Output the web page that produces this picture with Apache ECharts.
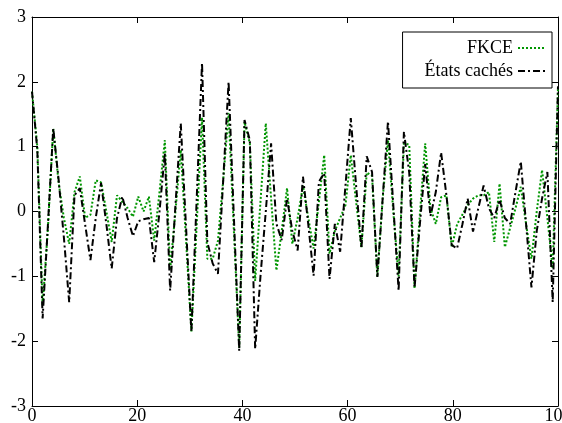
<!DOCTYPE html>
<html>
<head>
<meta charset="utf-8">
<script src="https://cdn.jsdelivr.net/npm/echarts@6/dist/echarts.min.js"></script>
<style>
html,body{margin:0;padding:0;background:#fff;}
#chart{width:562px;height:423px;}
</style>
</head>
<body>
<div id="chart"></div>
<script>
// Values (100 samples spread over 0..100)
const fkce = [1.85,1.0,-1.45,-0.25,1.28,0.45,-0.1,-0.5,0.3,0.54,
  -0.1,-0.05,0.48,0.45,0.0,-0.47,0.25,0.15,0.05,-0.08,
  0.23,0.0,0.23,-0.45,0.3,1.1,-0.9,0.0,0.95,-0.45,
  -1.85,-0.2,1.45,-0.73,-0.73,-0.45,0.5,1.52,-0.3,-2.1,
  1.38,1.05,-1.07,0.15,1.36,0.2,-0.91,-0.3,0.36,-0.5,
  -0.1,0.4,-0.1,-0.57,0.15,0.87,-0.65,-0.3,-0.1,0.1,
  0.87,0.15,-0.55,0.6,0.55,-1.01,0.2,1.1,0.0,-1.0,
  1.05,1.03,-1.19,-0.05,1.05,0.05,-0.19,0.22,0.25,-0.55,
  -0.2,-0.05,0.1,0.2,0.25,0.25,0.3,-0.47,0.43,-0.55,
  -0.25,0.05,0.38,-0.2,-0.73,0.0,0.64,-0.1,-0.88,1.9];
const etats = [1.85,0.95,-1.65,-0.2,1.28,0.5,-0.4,-1.4,0.25,0.36,
  -0.2,-0.75,-0.1,0.44,-0.2,-0.88,-0.1,0.23,-0.1,-0.38,
  -0.15,-0.12,-0.1,-0.78,0.0,0.9,-1.22,0.1,1.36,-0.25,
  -1.86,0.2,2.29,-0.47,-0.8,-0.96,0.5,2.0,-0.1,-2.15,
  1.41,1.1,-2.12,-1.0,0.0,1.05,-0.19,-0.44,0.2,-0.3,
  -0.6,0.54,-0.2,-0.99,0.46,0.59,-1.04,-0.19,-0.62,0.4,
  1.44,0.4,-0.57,0.85,0.61,-1.01,0.2,1.39,0.1,-1.22,
  1.23,0.6,-1.18,-0.2,0.73,-0.07,0.3,0.91,0.25,-0.52,
  -0.57,-0.2,0.2,-0.31,0.05,0.4,0.05,-0.1,0.18,-0.1,
  -0.19,0.3,0.77,-0.2,-1.17,-0.3,0.2,0.61,-1.4,1.93];
const seriesNames = ['FKCE', 'États cachés'];
const xMin = 0, xMax = 100, xStep = 20;
const yMin = -3, yMax = 3, yStep = 1;

const n = fkce.length;
const xs = fkce.map((_, i) => i * (xMax - xMin) / (n - 1) + xMin);
const pairs = arr => arr.map((v, i) => [xs[i], v]);

const font = '"Liberation Serif", "Times New Roman", "DejaVu Serif", serif';
function axisCommon() {
  return {
    axisLine: {show: true, onZero: false, lineStyle: {color: '#000', width: 1}},
    axisTick: {show: true, inside: true, length: 6, lineStyle: {color: '#000', width: 1}},
    splitLine: {show: false}
  };
}

const chart = echarts.init(document.getElementById('chart'), null, {renderer: 'canvas'});
chart.setOption({
  animation: false,
  backgroundColor: '#fff',
  textStyle: {fontFamily: font},
  grid: {left: 32, right: 4, top: 17, bottom: 17, containLabel: false, outerBoundsMode: 'none'},
  legend: {
    orient: 'vertical',
    align: 'right',
    right: 10,
    top: 32,
    padding: [7, 5, 8, 22],
    itemGap: 5,
    itemWidth: 28,
    itemHeight: 12,
    borderColor: '#000',
    borderWidth: 1,
    backgroundColor: '#fff',
    itemStyle: {opacity: 0},
    textStyle: {fontFamily: font, fontSize: 18, color: '#000'},
    data: seriesNames
  },
  xAxis: [
    Object.assign({type: 'value', min: xMin, max: xMax, interval: xStep, position: 'bottom',
      axisLabel: {fontFamily: font, fontSize: 18, color: '#000', margin: 1}}, axisCommon()),
    Object.assign({type: 'value', min: xMin, max: xMax, interval: xStep, position: 'top',
      axisLabel: {show: false}}, axisCommon())
  ],
  yAxis: [
    Object.assign({type: 'value', min: yMin, max: yMax, interval: yStep, position: 'left',
      axisLabel: {fontFamily: font, fontSize: 18, color: '#000', margin: 6,
        verticalAlign: 'middle', padding: [6, 0, 0, 0]}}, axisCommon()),
    Object.assign({type: 'value', min: yMin, max: yMax, interval: yStep, position: 'right',
      axisLabel: {show: false}}, axisCommon())
  ],
  series: [
    {
      name: seriesNames[0], type: 'line', xAxisIndex: 0, yAxisIndex: 0,
      data: pairs(fkce), showSymbol: false, symbol: 'none',
      lineStyle: {color: '#009600', width: 2, type: [2, 2]},
      itemStyle: {color: '#009600'}, z: 2
    },
    {
      name: seriesNames[1], type: 'line', xAxisIndex: 0, yAxisIndex: 0,
      data: pairs(etats), showSymbol: false, symbol: 'none',
      lineStyle: {color: '#000', width: 2, type: [7, 3, 2, 3]},
      itemStyle: {color: '#000'}, z: 3
    }
  ]
});
</script>
</body>
</html>
